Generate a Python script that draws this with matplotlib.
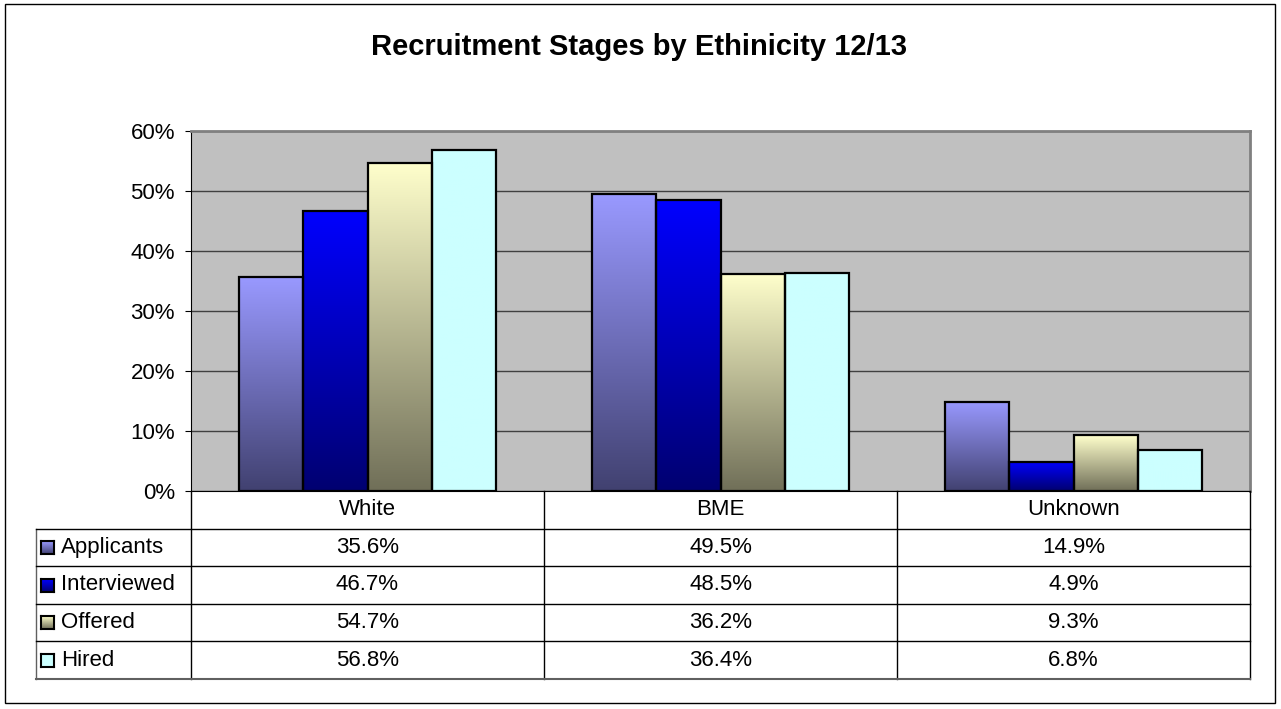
import numpy as np
import matplotlib.pyplot as plt
from matplotlib.colors import LinearSegmentedColormap
from matplotlib.lines import Line2D
from matplotlib.patches import Rectangle

plt.rcParams['font.family'] = ['Liberation Sans', 'DejaVu Sans']

categories = ['White', 'BME', 'Unknown']
series = ['Applicants', 'Interviewed', 'Offered', 'Hired']
applicants = [35.6, 49.5, 14.9]
interviewed = [46.7, 48.5, 4.9]
offered = [54.7, 36.2, 9.3]
hired = [56.8, 36.4, 6.8]
values = [applicants, interviewed, offered, hired]

# gradient colours, top then bottom
tops = ['#9999ff', '#0000ff', '#ffffcc', '#ccffff']
bottoms = ['#414170', '#000070', '#706f58', '#ccffff']
cmaps = [LinearSegmentedColormap.from_list(s, [b, t]) for s, t, b in zip(series, tops, bottoms)]
grad = np.linspace(0, 1, 256).reshape(-1, 1)

W, H = 1281, 709
fig = plt.figure(figsize=(W / 100, H / 100), dpi=100)


def fx(x):
    return x / W


def fy(y):
    return 1 - y / H


def hline(x0, x1, y, color='black', lw=1):
    fig.add_artist(Line2D([fx(x0), fx(x1)], [fy(y), fy(y)], color=color, lw=lw, transform=fig.transFigure))


def vline(x, y0, y1, color='black', lw=1):
    fig.add_artist(Line2D([fx(x), fx(x)], [fy(y0), fy(y1)], color=color, lw=lw, transform=fig.transFigure))


# outer frame
fig.add_artist(Rectangle((fx(5), fy(703)), fx(1275) - fx(5), fy(4) - fy(703),
                         transform=fig.transFigure, fill=False, ec='black', lw=1))

fig.text(fx(639), fy(47), 'Recruitment Stages by Ethinicity 12/13',
         fontsize=21, fontweight='bold', ha='center', va='center')

L, R, T, B = 191, 1250, 131, 491
ax = fig.add_axes([fx(L), fy(B), fx(R) - fx(L), fy(T) - fy(B)])
ax.set_facecolor('#c0c0c0')

n = len(series)
bw = 1 / (n + 1.5)
for i, vals in enumerate(values):
    for j, v in enumerate(vals):
        x0 = j + 0.75 * bw + i * bw
        ax.imshow(grad, cmap=cmaps[i], origin='lower', extent=[x0, x0 + bw, 0, v],
                  aspect='auto', zorder=2, interpolation='bilinear')
        ax.add_patch(Rectangle((x0, 0), bw, v, fill=False, ec='black', lw=1.6, zorder=3))

ax.set_xlim(0, len(categories))
ax.set_ylim(0, 60)
ax.set_yticks(range(0, 61, 10))
ax.set_yticklabels([f'{t}%' for t in range(0, 61, 10)])
ax.set_xticks([])
ax.tick_params(axis='y', direction='out', length=4.5, labelsize=16, pad=7)
ax.yaxis.grid(True, color='#404040', lw=1)
ax.set_axisbelow(True)
for s in ['top', 'right']:
    ax.spines[s].set_color('#808080')
    ax.spines[s].set_linewidth(2)
ax.spines['left'].set_color('black')
ax.spines['bottom'].set_color('black')

# data table under the axis
cols = [191, 544, 897, 1250]
rows = [491 + 37.6 * k for k in range(6)]
for x in cols:
    vline(x, rows[0], rows[-1])
vline(36, rows[1], rows[-1], color='#606060')
for y in rows[1:-1]:
    hline(36, 1250, y)
hline(36, 1250, rows[-1], color='#606060', lw=1.5)

for j, c in enumerate(categories):
    fig.text(fx((cols[j] + cols[j + 1]) / 2), fy((rows[0] + rows[1]) / 2), c,
             fontsize=16, ha='center', va='center')

for i, s in enumerate(series):
    yc = (rows[i + 1] + rows[i + 2]) / 2
    fig.text(fx(61), fy(yc), s, fontsize=16, ha='left', va='center')
    m = fig.add_axes([fx(41), fy(yc + 6.5), fx(13), fy(0) - fy(13)])
    m.imshow(grad, cmap=cmaps[i], origin='lower', aspect='auto', extent=[0, 1, 0, 1])
    m.set_xticks([])
    m.set_yticks([])
    for sp in m.spines.values():
        sp.set_linewidth(1.5)
    for j in range(len(categories)):
        fig.text(fx((cols[j] + cols[j + 1]) / 2), fy(yc), f'{values[i][j]:.1f}%',
                 fontsize=16, ha='center', va='center')

fig.savefig('out.png', dpi=100)
